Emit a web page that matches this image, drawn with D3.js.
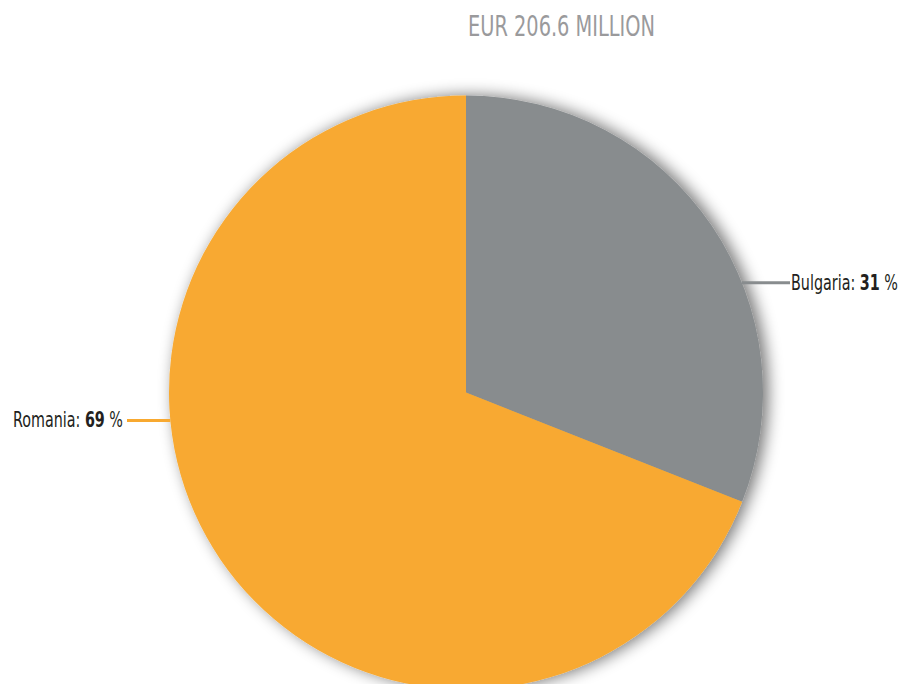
<!DOCTYPE html>
<html><head><meta charset="utf-8">
<script src="https://cdn.jsdelivr.net/npm/d3@7/dist/d3.min.js"></script>
<style>
html,body{margin:0;padding:0;background:#fff;}
svg{display:block;}
text{font-family:"DejaVu Sans Condensed","Liberation Sans Narrow",sans-serif;}
</style></head>
<body>
<svg id="c" width="902" height="684"></svg>
<script>
const title = "EUR 206.6 MILLION";
const categories = ["Bulgaria", "Romania"];
const values = [31, 69];
const colors = ["#888c8e", "#f8a930"];

const W = 902, H = 684;
const cx = 466, cy = 392.5, R = 297;
const labelAngleDeg = { Bulgaria: 68.3, Romania: 264.6 }; // leader placement
const labelTextX = { Bulgaria: 791, Romania: 123 };
const labelWidth = { Bulgaria: 107, Romania: 110 };

const svg = d3.select("#c");
const defs = svg.append("defs");
const f = defs.append("filter").attr("id","sh").attr("x","-20%").attr("y","-20%").attr("width","140%").attr("height","140%");
f.append("feGaussianBlur").attr("in","SourceAlpha").attr("stdDeviation",8).attr("result","b");
f.append("feOffset").attr("in","b").attr("dx",5).attr("dy",0).attr("result","o");
f.append("feComponentTransfer").attr("in","o").attr("result","o2")
  .append("feFuncA").attr("type","linear").attr("slope",0.55);
const m = f.append("feMerge");
m.append("feMergeNode").attr("in","o2");
m.append("feMergeNode").attr("in","SourceGraphic");

// squeeze a text horizontally to a target width, anchored at (x, y)
function squeeze(sel, x, y, width, anchorEnd) {
  const t = sel.select("text");
  const w = t.node().getComputedTextLength();
  const s = width / w;
  const x0 = anchorEnd ? x - width : x;
  sel.attr("transform", `translate(${x0},${y}) scale(${s},1)`);
}

const tg = svg.append("g");
tg.append("text").attr("x",0).attr("y",0).attr("fill","#9a9a9c").attr("font-size", 28).text(title);
squeeze(tg, 468, 36, 187, false);

const data = categories.map((c,i)=>({cat:c, value:values[i], color:colors[i]}));
const pie = d3.pie().sort(null).value(d=>d.value);
const arc = d3.arc().innerRadius(0).outerRadius(R);
const arcs = pie(data);

const g = svg.append("g").attr("transform",`translate(${cx},${cy})`);
const pg = g.append("g").attr("filter","url(#sh)");
pg.selectAll("path").data(arcs).join("path")
  .attr("d", arc).attr("fill", d=>d.data.color);

arcs.forEach(a=>{
  const cat = a.data.cat;
  const ang = labelAngleDeg[cat]*Math.PI/180;
  const ex = Math.sin(ang)*R, ey = -Math.cos(ang)*R;
  const right = ex > 0;
  const tx = labelTextX[cat] - cx;
  const lineEnd = right ? tx - 1 : tx + 4;
  g.append("line").attr("x1", ex).attr("y1", ey).attr("x2", lineEnd).attr("y2", ey)
    .attr("stroke", a.data.color).attr("stroke-width", 3);
  const lg = g.append("g");
  const t = lg.append("text").attr("x", 0).attr("y", 0)
    .attr("font-size", 21).attr("fill","#231f20");
  t.append("tspan").text(cat + ": ");
  t.append("tspan").attr("font-weight","bold").text(a.data.value);
  t.append("tspan").text(" %");
  squeeze(lg, tx, ey + 7, labelWidth[cat], !right);
});
</script>
</body></html>
